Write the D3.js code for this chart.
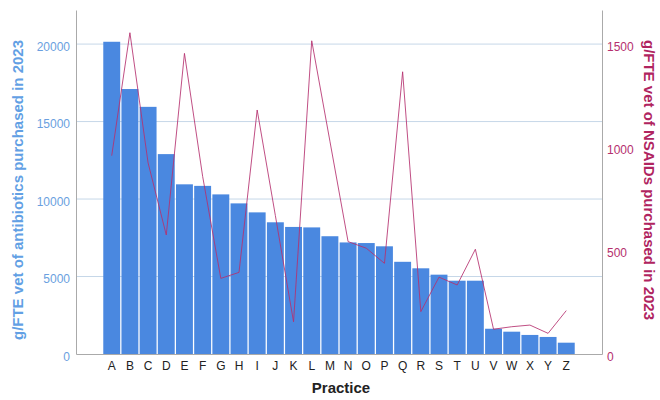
<!DOCTYPE html>
<html>
<head>
<meta charset="utf-8">
<script src="https://cdn.jsdelivr.net/npm/d3@7"></script>
<style>
  body { margin: 0; background: #fff; }
  text { font-family: "Liberation Sans", Arial, sans-serif; }
</style>
</head>
<body>
<div id="chart"></div>
<script>
// Practices and values
const practices = ["A","B","C","D","E","F","G","H","I","J","K","L","M","N","O","P","Q","R","S","T","U","V","W","X","Y","Z"];
const antibiotics = [20150,17100,15950,12900,10950,10850,10300,9720,9140,8500,8200,8170,7600,7200,7160,6950,5950,5530,5120,4730,4730,1630,1440,1230,1100,730];
const nsaids = [960,1555,925,576,1455,860,366,395,1181,670,156,1516,1030,544,512,439,1366,205,372,334,507,120,132,140,100,210];
const leftTicks = [0,5000,10000,15000,20000];
const rightTicks = [0,500,1000,1500];

const drawChart = () => {
  const width = 660;
  const height = 400;
  const left = 76, right = 602, top = 10, bottom = 354;
  const leftMax = 22200;
  const rightMax = leftMax * 1500 / 20000;

  const xScale = d3.scaleBand()
                   .domain(practices)
                   .range([left, right])
                   .paddingInner(0.07)
                   .paddingOuter(1.5);

  const yLeft = d3.scaleLinear().domain([0, leftMax]).range([bottom, top]);
  const yRight = d3.scaleLinear().domain([0, rightMax]).range([bottom, top]);

  const svg = d3.select("#chart")
                .append("svg")
                .attr("width", width)
                .attr("height", height);

  // gridlines
  svg.append("g")
     .selectAll("line")
     .data(leftTicks.filter(d => d > 0))
     .enter()
     .append("line")
     .attr("x1", left)
     .attr("x2", right)
     .attr("y1", d => yLeft(d))
     .attr("y2", d => yLeft(d))
     .attr("stroke", "#c6d7e8")
     .attr("stroke-width", 1);

  // bars
  svg.append("g")
     .selectAll("rect")
     .data(practices)
     .enter()
     .append("rect")
     .attr("x", d => xScale(d))
     .attr("y", (d, i) => yLeft(antibiotics[i]))
     .attr("width", xScale.bandwidth())
     .attr("height", (d, i) => bottom - yLeft(antibiotics[i]))
     .attr("fill", "#4a88e0");

  // NSAIDs line
  const line = d3.line()
                 .x((d, i) => xScale(practices[i]) + xScale.bandwidth() / 2)
                 .y(d => yRight(d));

  svg.append("path")
     .datum(nsaids)
     .attr("d", line)
     .attr("fill", "none")
     .attr("stroke", "#b5306e")
     .attr("stroke-width", 1)
     .attr("stroke-opacity", 0.85);

  // axes
  const leftAxis = svg.append("g")
                      .attr("transform", `translate(${left},0)`)
                      .call(d3.axisLeft(yLeft).tickValues(leftTicks).tickFormat(d3.format("d")).tickSize(0).tickPadding(6));
  leftAxis.select(".domain").attr("stroke", "#aaaaaa");
  leftAxis.selectAll("text")
          .attr("fill", "#6a9fe0")
          .attr("font-size", 12)
          .attr("dy", "0.5em");

  const rightAxis = svg.append("g")
                       .attr("transform", `translate(${right},0)`)
                       .call(d3.axisRight(yRight).tickValues(rightTicks).tickFormat(d3.format("d")).tickSize(0).tickPadding(5));
  rightAxis.select(".domain").attr("stroke", "#aaaaaa");
  rightAxis.selectAll("text")
           .attr("fill", "#b5306e")
           .attr("font-size", 12)
           .attr("dy", "0.5em");

  const bottomAxis = svg.append("g")
                        .attr("transform", `translate(0,${bottom})`)
                        .call(d3.axisBottom(xScale).tickSize(0).tickPadding(7));
  bottomAxis.select(".domain").attr("stroke", "#aaaaaa");
  bottomAxis.selectAll("text")
            .attr("fill", "#222")
            .attr("font-size", 12);

  // titles
  svg.append("text")
     .attr("transform", `translate(23,${(top + bottom) / 2 + 8}) rotate(-90)`)
     .attr("text-anchor", "middle")
     .attr("font-size", 15)
     .attr("font-weight", "bold")
     .attr("fill", "#62a0e4")
     .text("g/FTE vet of antibiotics purchased in 2023");

  svg.append("text")
     .attr("transform", `translate(644,${(top + bottom) / 2 - 2}) rotate(90)`)
     .attr("text-anchor", "middle")
     .attr("font-size", 15)
     .attr("font-weight", "bold")
     .attr("fill", "#b0245f")
     .text("g/FTE vet of NSAIDs purchased in 2023");

  svg.append("text")
     .attr("x", (left + right) / 2 + 2)
     .attr("y", 393)
     .attr("text-anchor", "middle")
     .attr("font-size", 15)
     .attr("font-weight", "bold")
     .attr("fill", "#222")
     .text("Practice");
}

drawChart();
</script>
</body>
</html>
